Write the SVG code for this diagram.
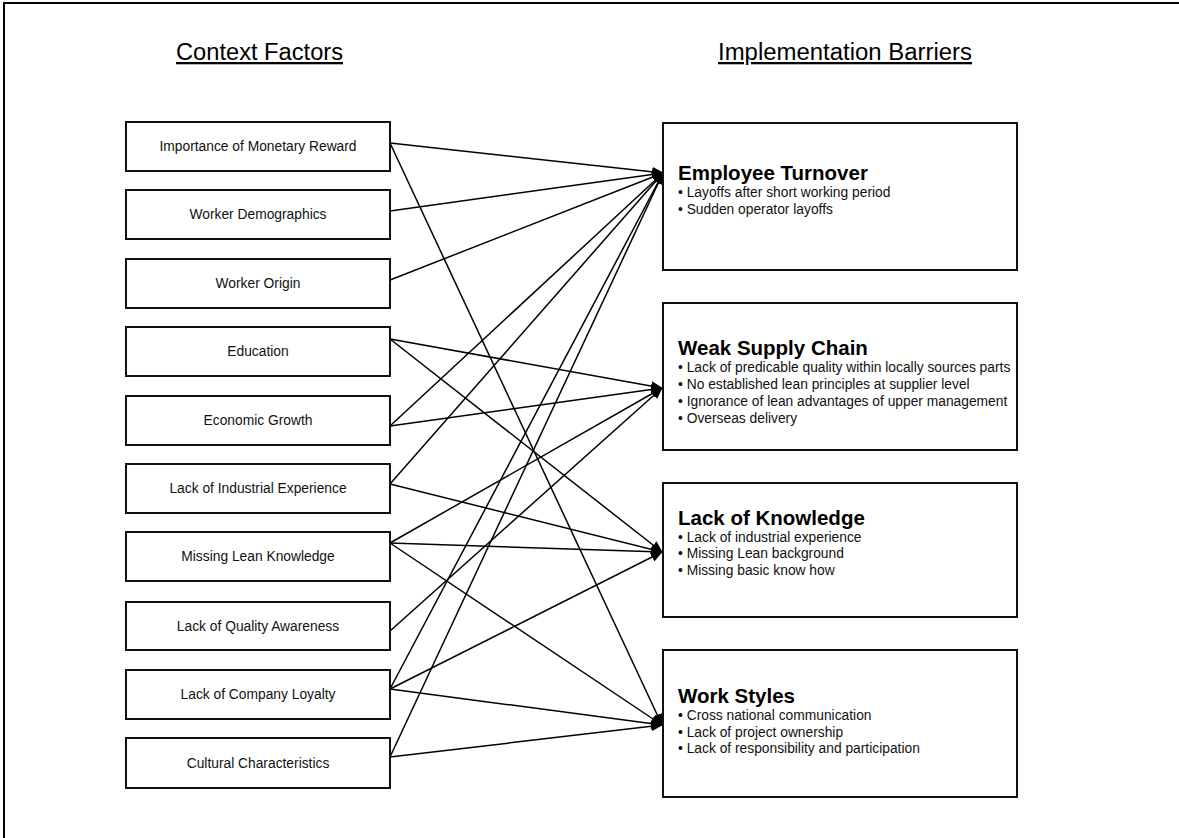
<svg xmlns="http://www.w3.org/2000/svg" width="1179" height="838" viewBox="0 0 1179 838">
<style>
.frame{fill:none;stroke:#000;stroke-width:2}
.box{fill:#fff;stroke:#111;stroke-width:2}
.lbl{font-family:"Liberation Sans",Arial,sans-serif;font-size:13.8px;fill:#111;text-anchor:middle}
.head{font-family:"Liberation Sans",Arial,sans-serif;font-size:23px;fill:#000;text-anchor:middle;text-decoration:underline}
.ttl{font-family:"Liberation Sans",Arial,sans-serif;font-size:20.5px;font-weight:bold;fill:#000}
.bul{font-family:"Liberation Sans",Arial,sans-serif;font-size:13.8px;fill:#111}
.cn line{stroke:#000;stroke-width:1.5;marker-end:url(#ah)}
</style>
<defs>
<marker id="ah" markerUnits="userSpaceOnUse" markerWidth="12" markerHeight="10" refX="11" refY="5" orient="auto">
<path d="M0,0 L12,5 L0,10 Z" fill="#000"/>
</marker>
</defs>
<rect width="1179" height="838" fill="#fff"/>
<path class="frame" d="M4,840 L4,3 L1180,3"/>
<text class="head" x="259.5" y="60" textLength="167" lengthAdjust="spacingAndGlyphs">Context Factors</text>
<text class="head" x="845" y="60" textLength="254" lengthAdjust="spacingAndGlyphs">Implementation Barriers</text>

<g class="cn" id="connectors">
<line x1="390" y1="143" x2="663" y2="173"/>
<line x1="390" y1="143" x2="662" y2="725"/>
<line x1="390" y1="211" x2="663" y2="173"/>
<line x1="390" y1="280" x2="663" y2="173"/>
<line x1="390" y1="339" x2="662" y2="388"/>
<line x1="390" y1="339" x2="662" y2="552"/>
<line x1="390" y1="426" x2="663" y2="173"/>
<line x1="390" y1="426" x2="662" y2="388"/>
<line x1="390" y1="484" x2="663" y2="173"/>
<line x1="390" y1="484" x2="662" y2="552"/>
<line x1="390" y1="543" x2="662" y2="388"/>
<line x1="390" y1="543" x2="662" y2="552"/>
<line x1="390" y1="543" x2="662" y2="725"/>
<line x1="390" y1="631" x2="662" y2="388"/>
<line x1="390" y1="689" x2="663" y2="173"/>
<line x1="390" y1="689" x2="662" y2="552"/>
<line x1="390" y1="689" x2="662" y2="725"/>
<line x1="390" y1="757" x2="663" y2="173"/>
<line x1="390" y1="757" x2="662" y2="725"/>
</g>

<g id="cf1"><rect class="box" x="126" y="122" width="264" height="49"/><text class="lbl" x="258" y="151">Importance of Monetary Reward</text></g>
<g id="cf2"><rect class="box" x="126" y="190" width="264" height="49"/><text class="lbl" x="258" y="219">Worker Demographics</text></g>
<g id="cf3"><rect class="box" x="126" y="259" width="264" height="49"/><text class="lbl" x="258" y="288">Worker Origin</text></g>
<g id="cf4"><rect class="box" x="126" y="327" width="264" height="49"/><text class="lbl" x="258" y="356">Education</text></g>
<g id="cf5"><rect class="box" x="126" y="396" width="264" height="49"/><text class="lbl" x="258" y="425">Economic Growth</text></g>
<g id="cf6"><rect class="box" x="126" y="464" width="264" height="49"/><text class="lbl" x="258" y="493">Lack of Industrial Experience</text></g>
<g id="cf7"><rect class="box" x="126" y="532" width="264" height="49"/><text class="lbl" x="258" y="561">Missing Lean Knowledge</text></g>
<g id="cf8"><rect class="box" x="126" y="602" width="264" height="48"/><text class="lbl" x="258" y="631">Lack of Quality Awareness</text></g>
<g id="cf9"><rect class="box" x="126" y="670" width="264" height="49"/><text class="lbl" x="258" y="699">Lack of Company Loyalty</text></g>
<g id="cf10"><rect class="box" x="126" y="738" width="264" height="50"/><text class="lbl" x="258" y="768">Cultural Characteristics</text></g>

<g id="ib1"><rect class="box" x="663" y="123" width="354" height="147"/>
<text class="ttl" x="678" y="180">Employee Turnover</text>
<text class="bul" x="678" y="197">• Layoffs after short working period</text>
<text class="bul" x="678" y="214">• Sudden operator layoffs</text></g>

<g id="ib2"><rect class="box" x="663" y="303" width="354" height="147"/>
<text class="ttl" x="678" y="355">Weak Supply Chain</text>
<text class="bul" x="678" y="372">• Lack of predicable quality within locally sources parts</text>
<text class="bul" x="678" y="389">• No established lean principles at supplier level</text>
<text class="bul" x="678" y="406">• Ignorance of lean advantages of upper management</text>
<text class="bul" x="678" y="423">• Overseas delivery</text></g>

<g id="ib3"><rect class="box" x="663" y="483" width="354" height="134"/>
<text class="ttl" x="678" y="525">Lack of Knowledge</text>
<text class="bul" x="678" y="542">• Lack of industrial experience</text>
<text class="bul" x="678" y="558">• Missing Lean background</text>
<text class="bul" x="678" y="575">• Missing basic know how</text></g>

<g id="ib4"><rect class="box" x="663" y="650" width="354" height="147"/>
<text class="ttl" x="678" y="703">Work Styles</text>
<text class="bul" x="678" y="720">• Cross national communication</text>
<text class="bul" x="678" y="737">• Lack of project ownership</text>
<text class="bul" x="678" y="753">• Lack of responsibility and participation</text></g>
</svg>
